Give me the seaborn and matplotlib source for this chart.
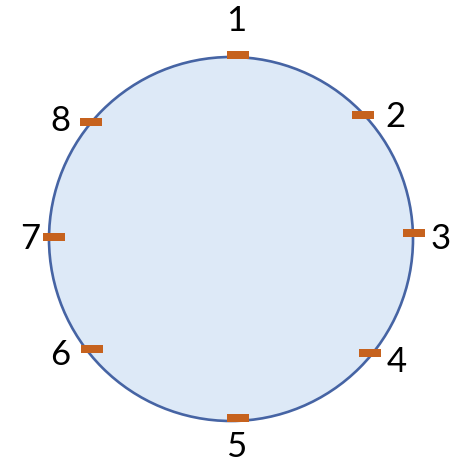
import matplotlib
matplotlib.use("Agg")
import matplotlib.pyplot as plt
import seaborn as sns
import numpy as np
import pandas as pd
from matplotlib.patches import Circle

# Data: the eight numbered points on the circle (pixel coordinates of the picture)
labels = ["1", "2", "3", "4", "5", "6", "7", "8"]
mark_x = [238, 363, 414, 370, 238, 91.5, 54, 91]
mark_y = [56, 115.5, 233.5, 354, 419, 350, 237.5, 123]
label_x = [236, 395, 441, 397, 236, 60, 30, 60]
label_y = [21, 117, 239, 362, 447, 355, 239, 121]

sns.set_style("white")
plt.rcParams['font.family'] = ['Lato', 'DejaVu Sans']

W, H = 451, 464
fig = plt.figure(figsize=(W / 100, H / 100), dpi=100)
ax = fig.add_axes([0, 0, 1, 1])

circ = Circle((231, 240), 182, facecolor="#dde9f7", edgecolor="#4664a4", linewidth=1.9, zorder=1)
ax.add_patch(circ)

df = pd.DataFrame({"x": mark_x, "y": mark_y, "label": labels})
rect = [(-1, -0.33), (1, -0.33), (1, 0.33), (-1, 0.33), (-1, -0.33)]
sns.scatterplot(data=df, x="x", y="y", marker=rect, s=(22 * 0.72) ** 2,
                color="#c6621e", linewidth=0, ax=ax, zorder=3, legend=False)
ax.set_xlim(0, W)
ax.set_ylim(H, 0)
ax.set_aspect("equal")
ax.axis("off")

for lab, x, y in zip(labels, label_x, label_y):
    ax.text(x, y, lab, ha="center", va="center", fontsize=25, color="black", zorder=4)

fig.savefig("out.png", dpi=100)
